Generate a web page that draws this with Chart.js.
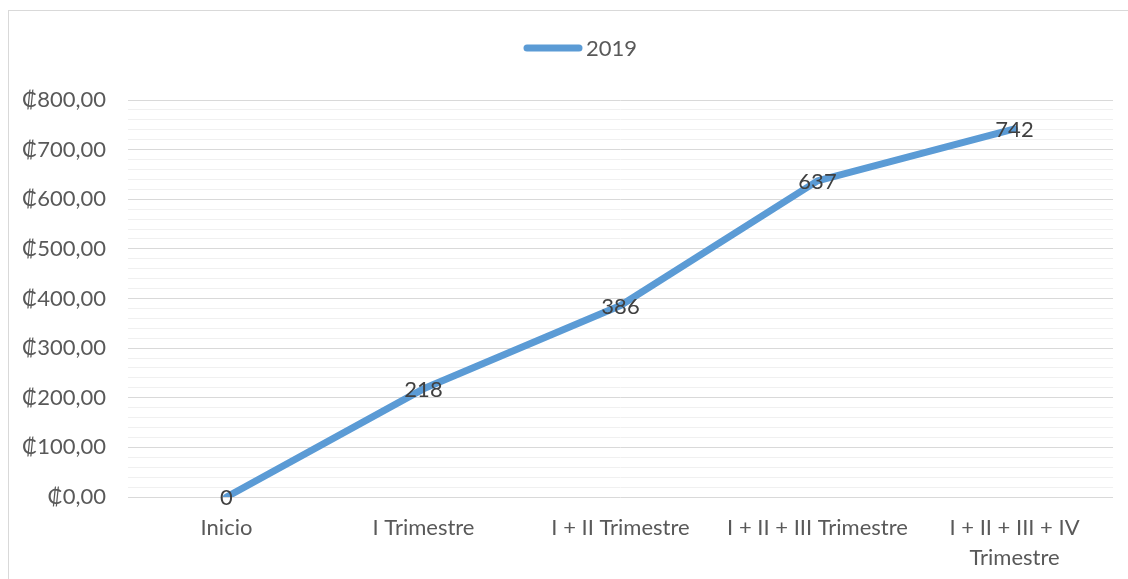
<!DOCTYPE html>
<html>
<head>
<meta charset="utf-8">
<script src="https://cdn.jsdelivr.net/npm/chart.js@4/dist/chart.umd.min.js"></script>
<style>
  body { margin: 0; background: #fff; }
  #frame { position: absolute; left: 8px; top: 10px; width: 1200px; height: 700px; border: 1px solid #d9d9d9; }
  #wrap { position: absolute; left: 0; top: 0; width: 1128px; height: 579px; }
</style>
</head>
<body>
<div id="frame"></div>
<div id="wrap"><canvas id="chart" width="1128" height="579"></canvas></div>
<script>
//chart data
const categories = ['Inicio', 'I Trimestre', 'I + II Trimestre', 'I + II + III Trimestre', ['I + II + III + IV', 'Trimestre']];
const values2019 = [0, 218, 386, 637, 742];
const seriesName = '2019';
const yMin = 0;
const yMax = 800;
const yMajorStep = 100;
const yMinorStep = 20;

const fontName = 'Lato';
const fontSize = 22;
const textColour = '#595959';
const lineColour = '#5b9bd5';

//draws the value next to each point
const pointLabels = {
    id: 'pointLabels',
    afterDatasetsDraw(chart) {
        const ctx = chart.ctx;
        ctx.save();
        ctx.font = fontSize + 'px ' + fontName;
        ctx.fillStyle = '#404040';
        ctx.textAlign = 'center';
        ctx.textBaseline = 'middle';
        chart.getDatasetMeta(0).data.forEach((pt, i) => {
            ctx.fillText(String(chart.data.datasets[0].data[i]), pt.x, pt.y + 1);
        });
        ctx.restore();
    }
};

//legend drawn by hand so the swatch looks like a thick line
const lineLegend = {
    id: 'lineLegend',
    afterDraw(chart) {
        const ctx = chart.ctx;
        const ds = chart.data.datasets[0];
        ctx.save();
        ctx.font = fontSize + 'px ' + fontName;
        const x0 = 524;
        const swatch = 58;
        const y = 48;
        ctx.strokeStyle = ds.borderColor;
        ctx.lineWidth = 7;
        ctx.lineCap = 'round';
        ctx.beginPath();
        ctx.moveTo(x0 + 3, y);
        ctx.lineTo(x0 + swatch - 3, y);
        ctx.stroke();
        ctx.fillStyle = textColour;
        ctx.textBaseline = 'middle';
        ctx.fillText(ds.label, x0 + swatch + 4, y + 1);
        ctx.restore();
    }
};

new Chart(document.getElementById('chart').getContext('2d'), {
    type: 'line',
    data: {
        labels: categories,
        datasets: [{
            label: seriesName,
            data: values2019,
            borderColor: lineColour,
            backgroundColor: lineColour,
            borderWidth: 7,
            borderCapStyle: 'round',
            borderJoinStyle: 'round',
            pointRadius: 0,
            tension: 0
        }]
    },
    options: {
        responsive: false,
        animation: false,
        layout: { padding: { left: 8, right: 15, top: 100, bottom: 0 } },
        plugins: {
            legend: { display: false },
            tooltip: { enabled: false }
        },
        scales: {
            x: {
                offset: true,
                grid: { display: false },
                border: { display: false },
                afterFit: function(scale) { scale.height = 82; },
                ticks: {
                    autoSkip: false,
                    maxRotation: 0,
                    padding: 8,
                    color: textColour,
                    font: { family: fontName, size: fontSize, lineHeight: 1.37 }
                }
            },
            y: {
                min: yMin,
                max: yMax,
                afterFit: function(scale) { scale.width = 120; },
                border: { display: false },
                grid: {
                    drawTicks: false,
                    lineWidth: 1,
                    color: function(c) {
                        return c.tick && c.tick.value % yMajorStep === 0 ? '#d9d9d9' : '#f0f0f0';
                    }
                },
                ticks: {
                    stepSize: yMinorStep,
                    autoSkip: false,
                    padding: 22,
                    color: textColour,
                    font: { family: fontName, size: fontSize },
                    callback: function(v) {
                        if (v % yMajorStep !== 0) return '';
                        return '₡' + v.toFixed(2).replace('.', ',');
                    }
                }
            }
        }
    },
    plugins: [pointLabels, lineLegend]
});
</script>
</body>
</html>
